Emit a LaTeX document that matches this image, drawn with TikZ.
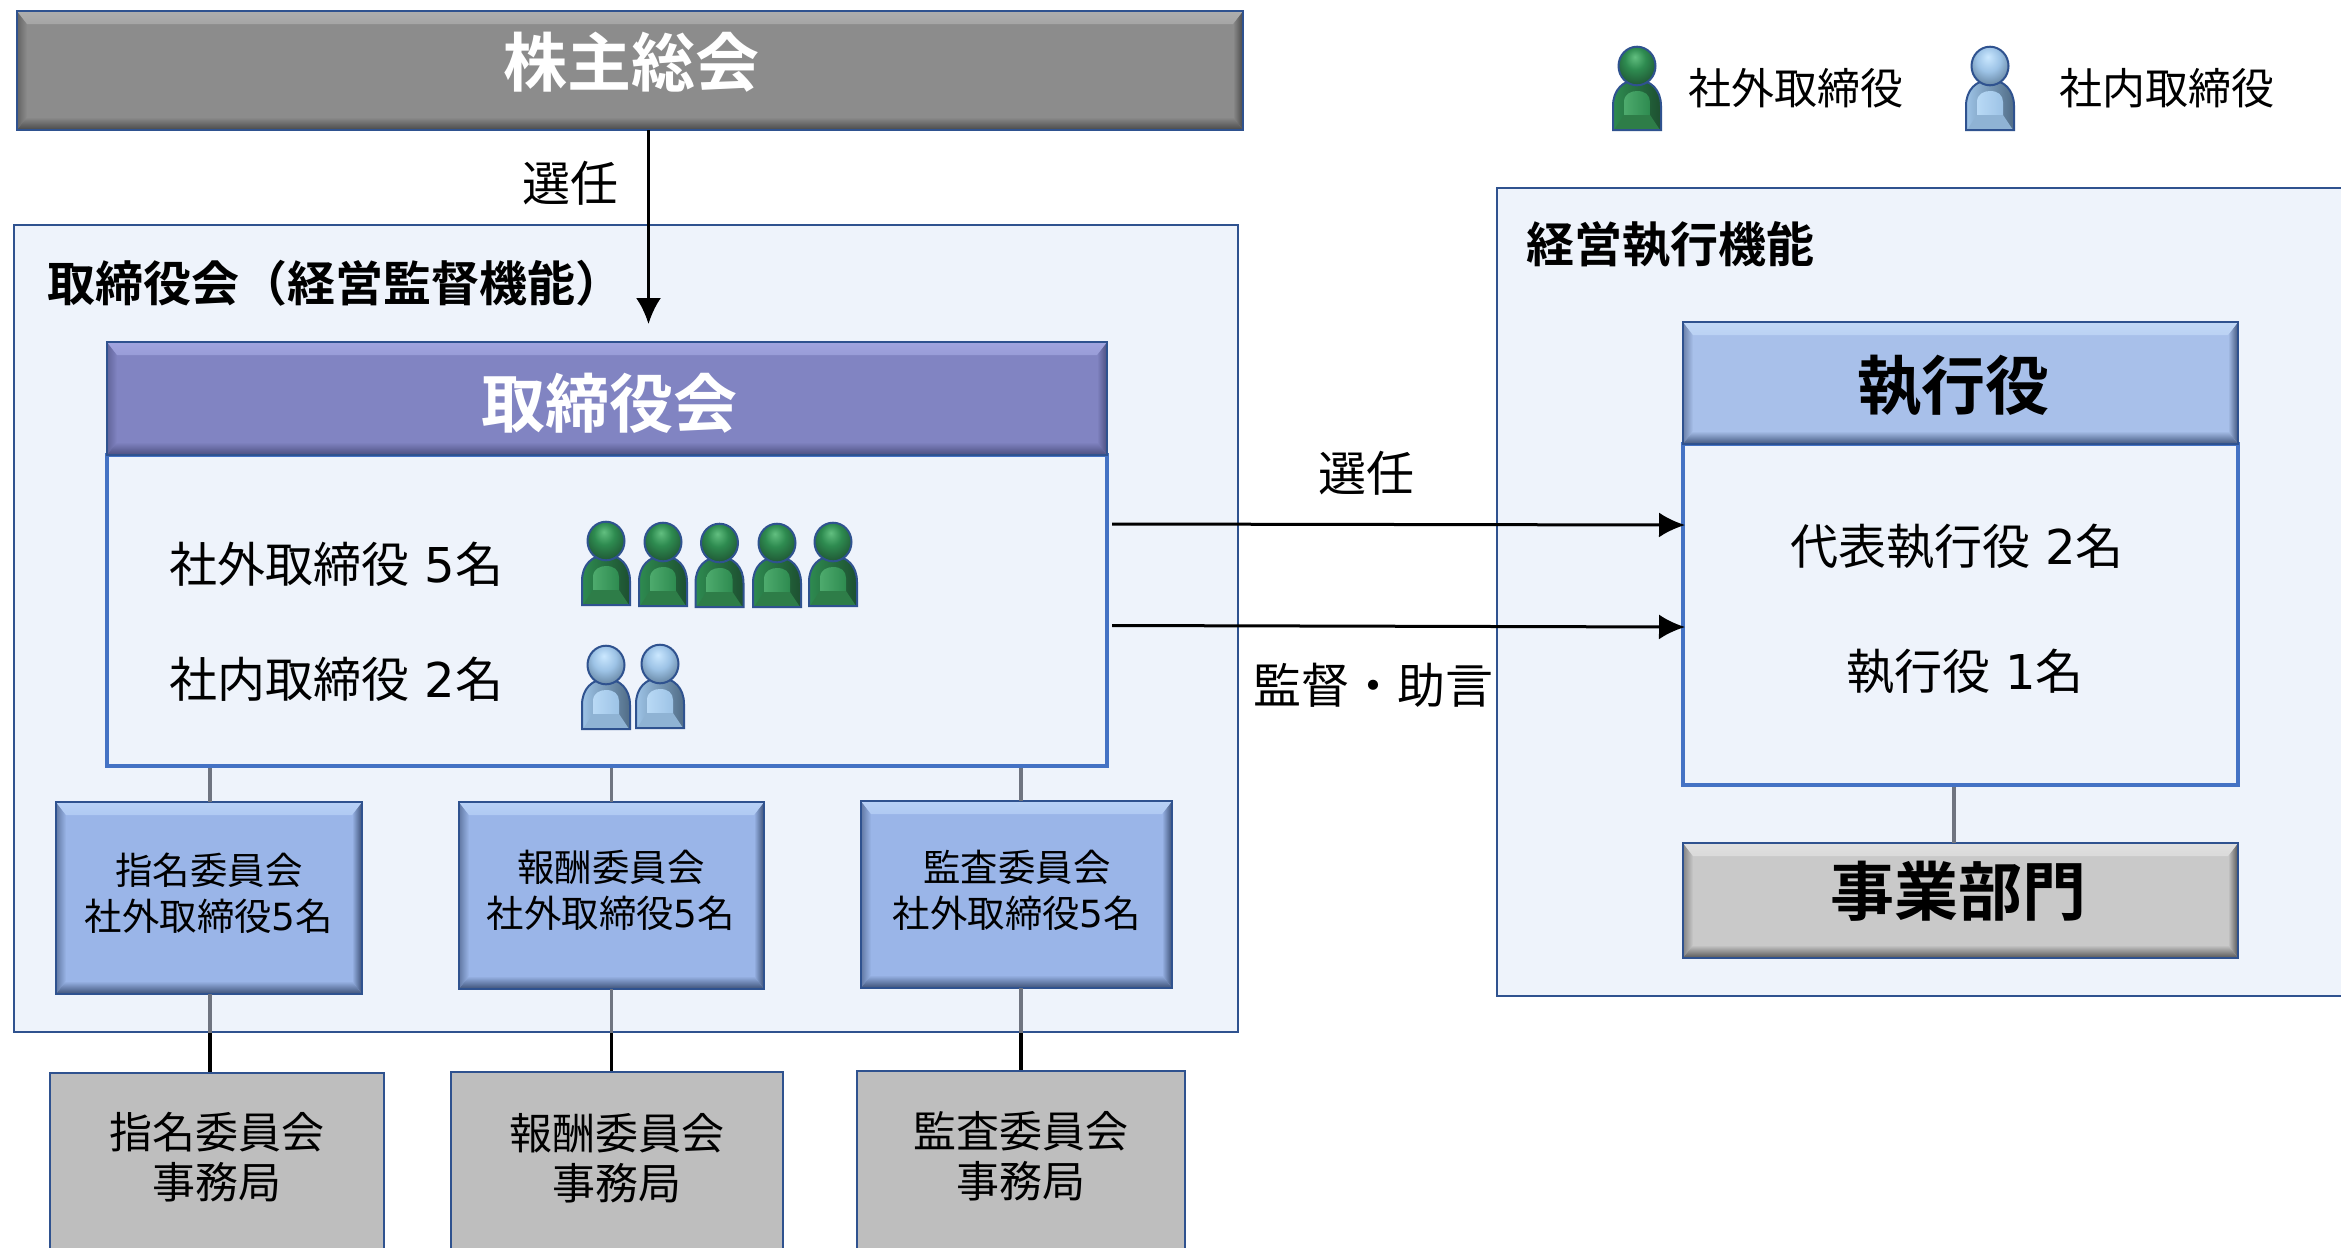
\documentclass[tikz,border=0pt]{standalone}
\usepackage{fontspec}
\setmainfont{Noto Sans CJK JP}[BoldFont={Noto Sans CJK JP Bold}]
\newfontfamily\dgf{DejaVu Sans}
\usetikzlibrary{arrows.meta,calc}
\definecolor{edgeblue}{HTML}{2F528F}
\definecolor{bodyblue}{HTML}{4472C4}
\definecolor{panel}{HTML}{EEF3FB}
\definecolor{boxgray}{HTML}{BEBEBE}
\definecolor{linegray}{HTML}{6F7480}
% bevel schemes: F fill, L light, D dark
\definecolor{grayF}{HTML}{8C8C8C}\definecolor{grayL}{HTML}{C4C4C4}\definecolor{grayD}{HTML}{484848}
\definecolor{purpF}{HTML}{8184C2}\definecolor{purpL}{HTML}{B6BAF2}\definecolor{purpD}{HTML}{4C4F80}
\definecolor{commF}{HTML}{9AB5E8}\definecolor{commL}{HTML}{CBE3FF}\definecolor{commD}{HTML}{3C5076}
\definecolor{execF}{HTML}{A8C0EA}\definecolor{execL}{HTML}{D2E8FF}\definecolor{execD}{HTML}{42577E}
\definecolor{lgryF}{HTML}{C9C9C9}\definecolor{lgryL}{HTML}{EFEFEF}\definecolor{lgryD}{HTML}{555555}
% figure icon colours
\definecolor{gnL}{HTML}{62BF80}\definecolor{gnM}{HTML}{2E8B50}\definecolor{gnD}{HTML}{1D4F30}\definecolor{gnF}{HTML}{2E7D48}
\definecolor{blL}{HTML}{CBE8FF}\definecolor{blM}{HTML}{9DC3E6}\definecolor{blD}{HTML}{506C86}\definecolor{blF}{HTML}{8FB3D4}
\pgfdeclareradialshading{headgn}{\pgfpoint{-3bp}{12bp}}{color(0bp)=(gnL);color(14bp)=(gnM);color(34bp)=(gnD);color(60bp)=(gnD)}
\pgfdeclareradialshading{headbl}{\pgfpoint{-3bp}{12bp}}{color(0bp)=(blL);color(16bp)=(blM);color(38bp)=(blD);color(60bp)=(blD)}
\tikzset{
  panelbox/.style={draw=edgeblue,line width=1.3pt,fill=panel,inner sep=0,rectangle},
  bodybox/.style={draw=bodyblue,line width=1.7pt,fill=panel,inner sep=0,rectangle},
  graybox/.style={draw=edgeblue,line width=1.3pt,fill=boxgray,inner sep=0,rectangle},
  edgeline/.style={draw=edgeblue,line width=1pt},
  lab/.style={inner sep=0,align=center,text=black},
  t47/.style={lab,font=\fontsize{24pt}{28pt}\selectfont},
  t47b/.style={lab,font=\fontsize{24pt}{28pt}\selectfont\bfseries},
  t42/.style={lab,font=\fontsize{21.5pt}{25pt}\selectfont},
  t37/.style={lab,font=\fontsize{18.7pt}{23pt}\selectfont},
  t64w/.style={inner sep=0,text=white,font=\fontsize{32pt}{36pt}\selectfont\bfseries},
  t64k/.style={inner sep=0,text=black,font=\fontsize{32pt}{36pt}\selectfont\bfseries},
  thin link/.style={draw=linegray,line width=1.6pt},
  dark link/.style={draw=black,line width=1.7pt},
  flow/.style={draw=black,line width=1.5pt,-{Latex[length=13pt,width=12.5pt]}},
}
% name x1 y1 x2 y2 style
\newcommand\plainbox[6]{\node[#6,minimum width=\fpeval{(#4-#2)*0.5}pt,minimum height=\fpeval{(#5-#3)*0.5}pt] (#1) at (\fpeval{(#2+#4)/2},\fpeval{(#3+#5)/2}) {};}
% name x1 y1 x2 y2 scheme
\newcommand\bevelbox[6]{%
  \node[inner sep=0,rectangle,fill=#6F,minimum width=\fpeval{(#4-#2)*0.5}pt,minimum height=\fpeval{(#5-#3)*0.5}pt] (#1) at (\fpeval{(#2+#4)/2},\fpeval{(#3+#5)/2}) {};
  \path[left color=#6D!60!#6F,right color=#6F] (#2,#3) -- (\fpeval{#2+10},\fpeval{#3+13}) -- (\fpeval{#2+10},\fpeval{#5-13}) -- (#2,#5) -- cycle;
  \path[left color=#6F,right color=#6D] (#4,#3) -- (\fpeval{#4-10},\fpeval{#3+13}) -- (\fpeval{#4-10},\fpeval{#5-13}) -- (#4,#5) -- cycle;
  \path[top color=#6L!60!#6F,middle color=#6L,bottom color=#6L!45!#6F] (#2,#3) -- (#4,#3) -- (\fpeval{#4-10},\fpeval{#3+13}) -- (\fpeval{#2+10},\fpeval{#3+13}) -- cycle;
  \path[top color=#6F,bottom color=#6D] (#2,#5) -- (#4,#5) -- (\fpeval{#4-10},\fpeval{#5-13}) -- (\fpeval{#2+10},\fpeval{#5-13}) -- cycle;
  \draw[edgeline] (#1.north west) rectangle (#1.south east);
}
% cx, bottom y, scheme
\newcommand\figicon[3]{%
  \begin{scope}[shift={(#1,#2)}]
    \path[left color=#3M,right color=#3D] (-24,0) -- (-24,-24) .. controls (-24,-40) and (-14,-50) .. (0,-50) .. controls (14,-50) and (24,-40) .. (24,-24) -- (24,0) -- cycle;
    \path[left color=#3L!60!#3M,right color=#3M] (-13,-15) -- (-13,-28) .. controls (-13,-36) and (-6,-39) .. (0,-39) .. controls (8,-39) and (13,-35) .. (13,-28) -- (13,-15) -- cycle;
    \path[fill=#3F] (-23,0) -- (23,0) -- (13,-15) -- (-13,-15) -- cycle;
    \draw[edgeline] (-24,0) -- (-24,-24) .. controls (-24,-40) and (-14,-50) .. (0,-50) .. controls (14,-50) and (24,-40) .. (24,-24) -- (24,0) -- cycle;
    \path[shading=head#3] (0,-64) ellipse [x radius=18.5,y radius=19.3];
    \draw[edgeline] (0,-64) ellipse [x radius=18.5,y radius=19.3];
  \end{scope}}
\begin{document}
\begin{tikzpicture}[x=0.5pt,y=-0.5pt]
\path[use as bounding box,clip] (0,0) rectangle (2341,1248);
\fill[white] (0,0) rectangle (2341,1248);

% panels
\plainbox{supervise}{14}{225}{1238}{1032}{panelbox}
\plainbox{execpanel}{1497}{188}{2380}{996}{panelbox}

% guide x positions of the links
\coordinate (xa) at (210,0);
\coordinate (xb) at (611.5,0);
\coordinate (xc) at (1021,0);
\coordinate (xe) at (1954,0);
\coordinate (xs) at (648.5,0);

% boxes
\plainbox{board}{107}{455}{1107}{766}{bodybox}
\plainbox{execbody}{1683}{444}{2238}{785}{bodybox}
\plainbox{secA}{50}{1073}{384}{1300}{graybox}
\plainbox{secB}{451}{1072}{783}{1300}{graybox}
\plainbox{secC}{857}{1071}{1185}{1300}{graybox}

% bevelled boxes
\bevelbox{agm}{17}{11}{1243}{130}{gray}
\bevelbox{boardhead}{107}{342}{1107}{455}{purp}
\bevelbox{comA}{56}{802}{362}{994}{comm}
\bevelbox{comB}{459}{802}{764}{989}{comm}
\bevelbox{comC}{861}{801}{1172}{988}{comm}
\bevelbox{exechead}{1683}{322}{2238}{444}{exec}
\bevelbox{bizunit}{1683}{843}{2238}{958}{lgry}

% links
\draw[thin link] (board.south -| xa) -- (comA.north -| xa);
\draw[thin link] (board.south -| xb) -- (comB.north -| xb);
\draw[thin link] (board.south -| xc) -- (comC.north -| xc);
\draw[thin link] (execbody.south -| xe) -- (bizunit.north -| xe);
\draw[thin link] (comA.south -| xa) -- (supervise.south -| xa);
\draw[thin link] (comB.south -| xb) -- (supervise.south -| xb);
\draw[thin link] (comC.south -| xc) -- (supervise.south -| xc);
\draw[dark link] (supervise.south -| xa) -- (secA.north -| xa);
\draw[dark link] (supervise.south -| xb) -- (secB.north -| xb);
\draw[dark link] (supervise.south -| xc) -- (secC.north -| xc);

% flows
\coordinate (arrowEnd) at (648.5,324);
\coordinate (s1) at (1112,524);
\coordinate (e1) at (1685,525);
\coordinate (s2) at (1112,625.5);
\coordinate (e2) at (1685,627);
\draw[flow] (agm.south -| xs) -- (arrowEnd);
\draw[flow] (s1) -- (e1);
\draw[flow] (s2) -- (e2);

% icons
\figicon{606}{605}{gn}
\figicon{663}{606}{gn}
\figicon{719.5}{607}{gn}
\figicon{777}{607}{gn}
\figicon{833}{606}{gn}
\figicon{606}{729}{bl}
\figicon{660}{728}{bl}
\figicon{1637}{130}{gn}
\figicon{1990}{130}{bl}

% labels
\node[t64w] (tagm) at (631,62) {株主総会};
\node[t64w] (tboard) at (609,403) {取締役会};
\node[t64k] (texec) at (1953,386) {執行役};
\node[t64k] (tbiz) at (1958,891) {事業部門};
\node[t47] (tsel1) at (570,183) {選任};
\node[t47b,anchor=west] (ttitle) at (47,283) {取締役会（経営監督機能）};
\node[t47b,anchor=west] (ttitle2) at (1526,245) {経営執行機能};
\node[t47,anchor=west] (tout) at (169,564) {社外取締役{\dgf\ 5}名};
\node[t47,anchor=west] (tin) at (169,679) {社内取締役{\dgf\ 2}名};
\node[t47] (tsel2) at (1366,473) {選任};
\node[t47] (tadv) at (1373,685) {監督・助言};
\node[t47] (trep) at (1957,547) {代表執行役{\dgf\ 2}名};
\node[t47] (tofc) at (1965,672) {執行役{\dgf\ 1}名};
\node[t42,anchor=west] (lg1) at (1688,88) {社外取締役};
\node[t42,anchor=west] (lg2) at (2059,88) {社内取締役};
\node[t37] (ca) at (209,893) {指名委員会\\社外取締役{\dgf 5}名};
\node[t37] (cb) at (611,890.5) {報酬委員会\\社外取締役{\dgf 5}名};
\node[t37] (cc) at (1017,890.5) {監査委員会\\社外取締役{\dgf 5}名};
\node[t42] (sa) at (217,1157) {指名委員会\\事務局};
\node[t42] (sb) at (617,1158) {報酬委員会\\事務局};
\node[t42] (sc) at (1021,1156.5) {監査委員会\\事務局};
\end{tikzpicture}
\end{document}
